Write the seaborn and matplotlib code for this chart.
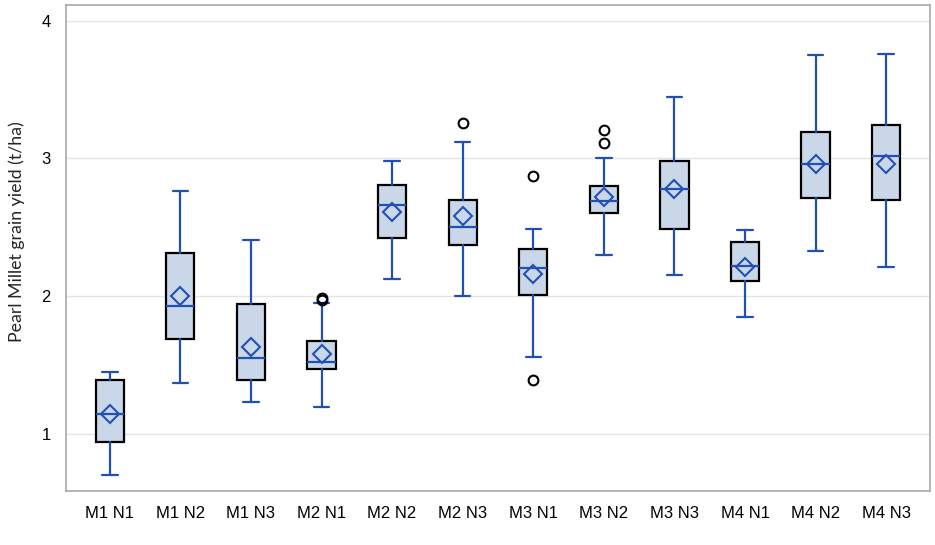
import matplotlib
matplotlib.use("Agg")
import matplotlib.pyplot as plt
import seaborn as sns

# summary values (t/ha)
groups = ["M1 N1", "M1 N2", "M1 N3", "M2 N1", "M2 N2", "M2 N3",
          "M3 N1", "M3 N2", "M3 N3", "M4 N1", "M4 N2", "M4 N3"]
whis_lo = [0.70, 1.37, 1.23, 1.19, 2.12, 2.00, 1.56, 2.30, 2.15, 1.85, 2.33, 2.21]
q1 = [0.94, 1.69, 1.39, 1.47, 2.42, 2.37, 2.01, 2.60, 2.49, 2.11, 2.71, 2.70]
median = [1.14, 1.93, 1.55, 1.52, 2.66, 2.50, 2.20, 2.69, 2.78, 2.22, 2.96, 3.02]
q3 = [1.39, 2.31, 1.94, 1.67, 2.81, 2.70, 2.34, 2.80, 2.98, 2.39, 3.19, 3.24]
whis_hi = [1.45, 2.76, 2.41, 1.95, 2.98, 3.12, 2.49, 3.00, 3.45, 2.48, 3.75, 3.76]
means = [1.14, 2.00, 1.63, 1.58, 2.61, 2.58, 2.16, 2.72, 2.78, 2.21, 2.96, 2.96]
outliers = [[], [], [], [1.97, 1.985], [], [3.26],
            [2.87, 1.39], [3.21, 3.11], [], [], [], []]

sns.set_style("white")
plt.rcParams["font.family"] = ["Liberation Sans", "DejaVu Sans"]

blue = "#2150B4"
fill = "#CAD7E8"

stats = []
for i, g in enumerate(groups):
    stats.append(dict(label=g, whislo=whis_lo[i], q1=q1[i], med=median[i],
                      q3=q3[i], whishi=whis_hi[i], mean=means[i],
                      fliers=outliers[i]))

fig = plt.figure(figsize=(9.35, 5.45), dpi=100)
ax = fig.add_axes([0.0706, 0.099, 0.924, 0.892])

ax.bxp(stats, positions=range(len(groups)), widths=0.4, patch_artist=True,
       showmeans=True,
       boxprops=dict(facecolor=fill, edgecolor="black", linewidth=1.6),
       medianprops=dict(color=blue, linewidth=1.6),
       whiskerprops=dict(color=blue, linewidth=1.6),
       capprops=dict(color=blue, linewidth=1.6),
       capwidths=0.22,
       meanprops=dict(marker="D", markerfacecolor="none", markeredgecolor=blue,
                      markeredgewidth=1.5, markersize=9),
       flierprops=dict(marker="o", markerfacecolor="none", markeredgecolor="black",
                       markeredgewidth=1.5, markersize=7))

ax.set_xlim(-0.62, len(groups) - 1 + 0.62)
ax.set_ylim(0.582, 4.116)
ax.set_yticks([1, 2, 3, 4])
ax.set_yticklabels(["1", "2", "3", "4"])
ax.yaxis.grid(True, color="#E4E4E4", linewidth=1)
ax.set_axisbelow(True)

for s in ax.spines.values():
    s.set_color("#A5A9AE")
    s.set_linewidth(1.2)

ax.tick_params(axis="both", direction="out", length=7, width=1, color="#A5A9AE",
               labelsize=12, labelcolor="black", pad=4)
ax.set_ylabel("Pearl Millet grain yield (t/ha)", fontsize=12.8,
              fontfamily=["Lato", "DejaVu Sans"])
ax.yaxis.set_label_coords(-0.047, 0.533)

fig.savefig("out.png", dpi=100)
